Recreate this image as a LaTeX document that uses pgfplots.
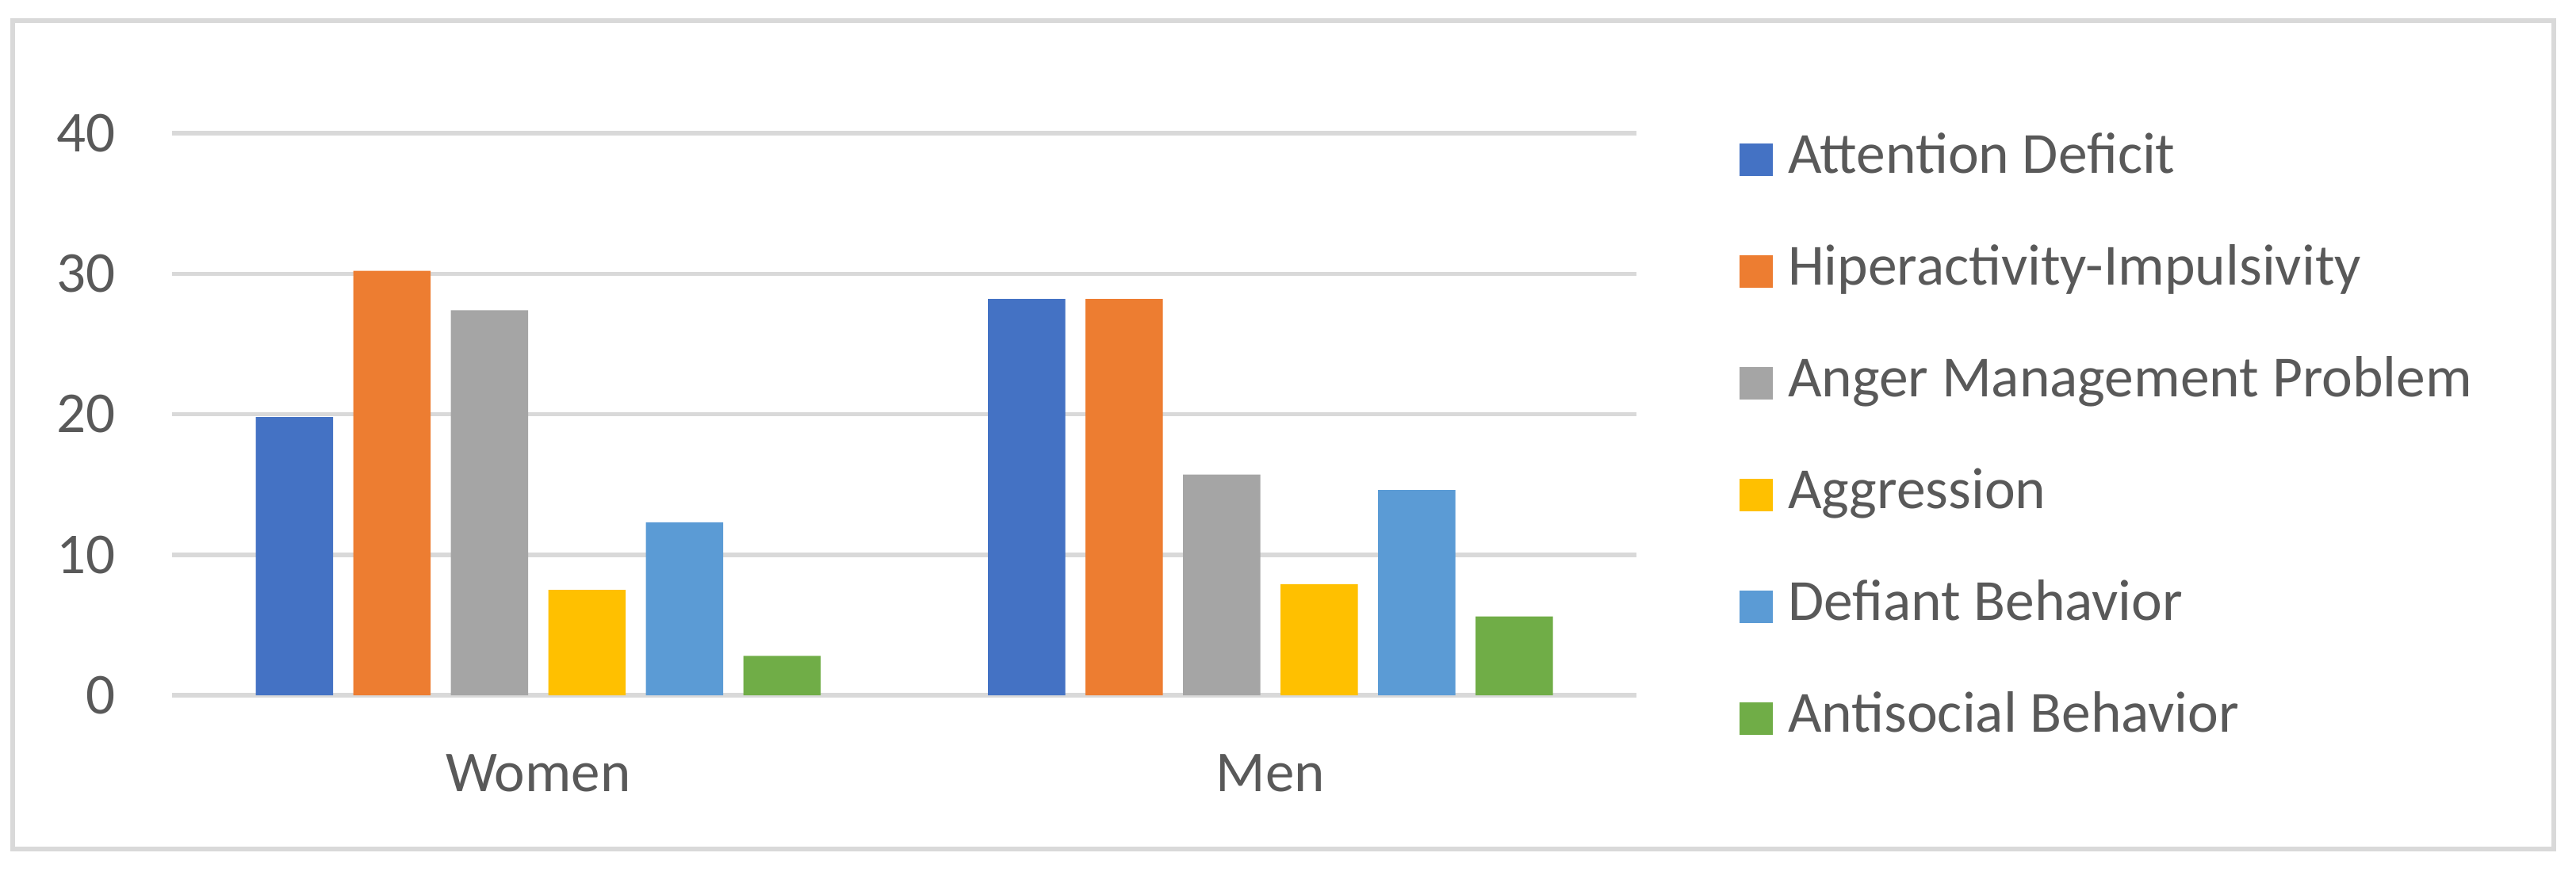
\documentclass[border=0pt]{standalone}
\usepackage{fontspec}
\setmainfont{Carlito}
\usepackage{pgfplots}
\pgfplotsset{compat=1.18}
\definecolor{gridgray}{HTML}{D9D9D9}
\definecolor{textgray}{HTML}{595959}
\definecolor{cblue}{HTML}{4472C4}
\definecolor{corange}{HTML}{ED7D31}
\definecolor{cgray}{HTML}{A5A5A5}
\definecolor{cyellow}{HTML}{FFC000}
\definecolor{clblue}{HTML}{5B9BD5}
\definecolor{cgreen}{HTML}{70AD47}
\begin{document}
\begin{tikzpicture}
\path[use as bounding box] (0,0) rectangle (649.8pt,219.8pt);
\draw[gridgray, line width=1.2pt] (3.1pt,5.6pt) rectangle (644.2pt,214.5pt);
\begin{axis}[
    at={(43.4pt,44.4pt)}, anchor=south west,
    scale only axis, width=369.4pt, height=141.8pt,
    xmin=-0.5, xmax=1.5, ymin=0, ymax=40,
    ybar=5.1pt, bar width=19.5pt,
    xtick={0,1}, xticklabels={Women,Men},
    ytick={0,10,20,30,40},
    axis line style={draw=none},
    major tick length=0pt,
    ymajorgrids, grid style={gridgray, line width=1.1pt},
    tick label style={font=\fontsize{14.6}{17}\selectfont, text=textgray},
    /pgf/number format/assume math mode=true,
    yticklabel style={anchor=east, inner sep=0pt, xshift=-14.2pt},
    xticklabel style={anchor=north, inner sep=0pt, yshift=-14.8pt},
    legend cell align=left,
    legend style={at={(1.0704,0.4556)}, anchor=west, draw=none, fill=none,
        inner sep=0pt, outer sep=0pt, row sep=15.2pt, column sep=3.8pt,
        font=\fontsize{14.7}{17}\selectfont, text=textgray,
        nodes={inner sep=0pt, text height=10pt, text depth=3pt}},
    legend image code/.code={\fill[#1] (0pt,-4.1pt) rectangle (8.4pt,4.1pt);},
]
\addplot[fill=cblue, draw=none] coordinates {(0,19.8) (1,28.2)};
\addplot[fill=corange, draw=none] coordinates {(0,30.2) (1,28.2)};
\addplot[fill=cgray, draw=none] coordinates {(0,27.4) (1,15.7)};
\addplot[fill=cyellow, draw=none] coordinates {(0,7.5) (1,7.9)};
\addplot[fill=clblue, draw=none] coordinates {(0,12.3) (1,14.6)};
\addplot[fill=cgreen, draw=none] coordinates {(0,2.8) (1,5.6)};
\legend{Attention Deficit, Hiperactivity-Impulsivity, Anger Management Problem, Aggression, Defiant Behavior, Antisocial Behavior}
\end{axis}
\end{tikzpicture}
\end{document}
